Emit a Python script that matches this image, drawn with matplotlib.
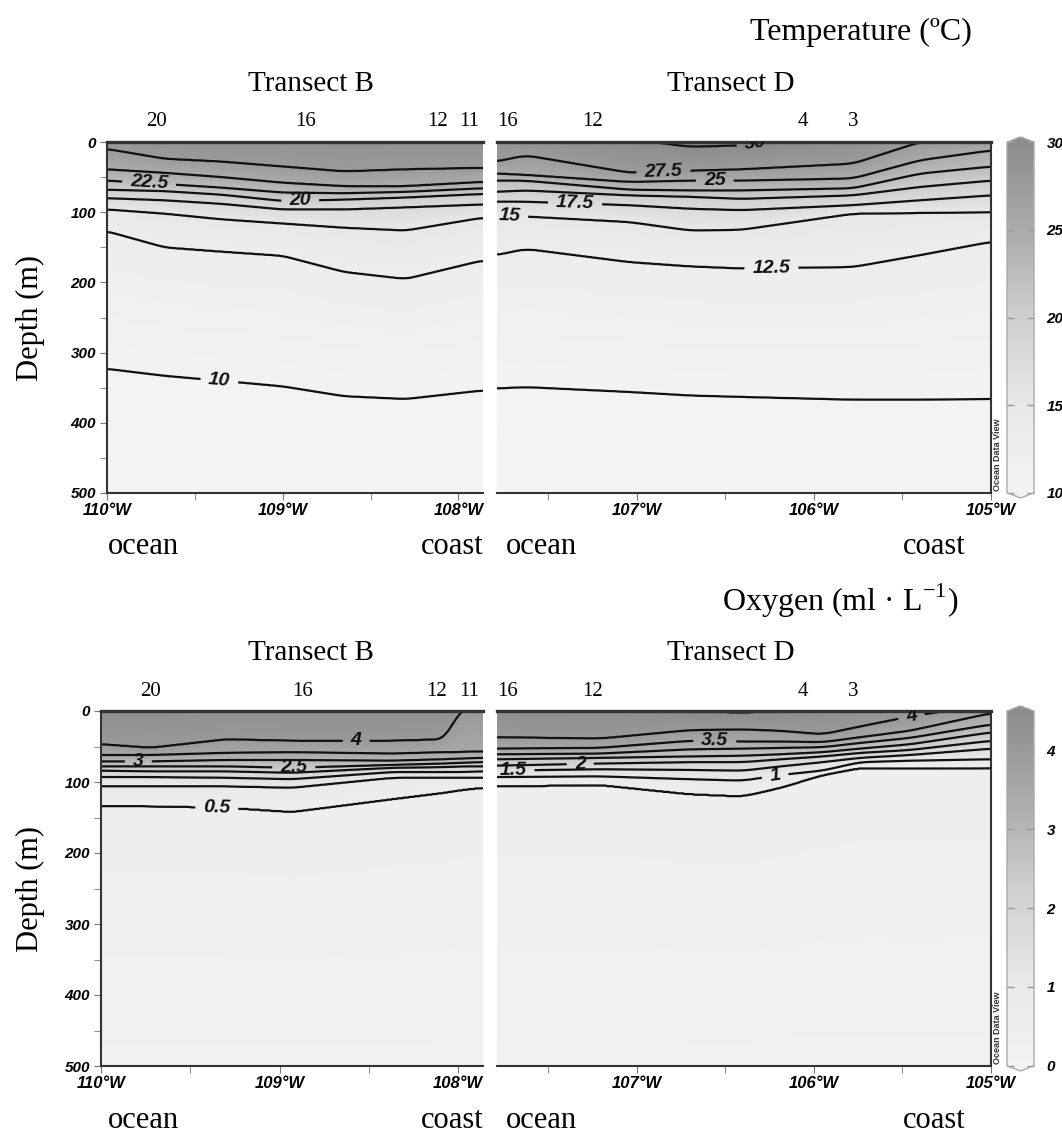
import numpy as np
import matplotlib
matplotlib.use("Agg")
import matplotlib.pyplot as plt
from matplotlib.colors import LinearSegmentedColormap, Normalize
from matplotlib.cm import ScalarMappable
from matplotlib.transforms import blended_transform_factory

# ---- data read from the sections (depth in m of each isoline at each longitude, degrees W) ----
temp_levels = [30, 27.5, 25, 22.5, 20, 17.5, 15, 12.5, 10]

temp_b_lon = [110.0, 109.67, 109.35, 109.0, 108.65, 108.3, 107.87]
temp_b_depth = [
    [-30, -30, -30, -30, -30, -30, -30],
    [10, 24, 28, 35, 42, 39, 37],
    [39, 44, 50, 58, 63, 63, 57],
    [55, 60, 65, 72, 73, 71, 66],
    [68, 70, 75, 84, 82, 79, 74],
    [80, 83, 88, 96, 96, 93, 89],
    [96, 102, 110, 116, 122, 126, 108],
    [127, 150, 156, 162, 185, 195, 169],
    [323, 333, 340, 348, 362, 366, 354],
]

temp_d_lon = [107.79, 107.63, 107.04, 106.70, 106.41, 105.78, 105.40, 105.0]
temp_d_depth = [
    [-25, -25, -4, 7, 5, -15, -30, -40],
    [28, 19, 44, 41, 39, 31, 0, -6],
    [45, 47, 57, 55, 55, 52, 26, 12],
    [55, 55, 68, 69, 69, 66, 45, 35],
    [71, 69, 76, 78, 81, 76, 64, 55],
    [85, 85, 90, 95, 97, 90, 83, 76],
    [104, 106, 114, 126, 125, 102, 101, 100],
    [161, 152, 171, 177, 180, 178, 161, 142],
    [351, 349, 356, 361, 363, 367, 367, 366],
]

oxy_levels = [4.5, 4, 3.5, 3, 2.5, 2, 1.5, 1, 0.5]

oxy_b_lon = [110.0, 109.72, 109.3, 108.93, 108.37, 108.08, 107.98, 107.87]
oxy_b_depth = [
    [-30, -30, -30, -30, -30, -30, -30, -30],
    [47, 52, 40, 42, 42, 40, -3, -8],
    [62, 62, 59, 58, 60, 58, 58, 57],
    [71, 71, 69, 69, 70, 68, 67, 66],
    [78, 78, 78, 80, 76, 74, 73, 72],
    [84, 85, 85, 87, 80, 79, 78, 78],
    [93, 93, 94, 96, 86, 86, 86, 85],
    [106, 106, 106, 108, 94, 94, 94, 94],
    [134, 134, 136, 142, 124, 115, 111, 108],
]

oxy_d_lon = [107.79, 107.21, 106.70, 106.40, 106.19, 105.95, 105.74, 105.46, 105.0]
oxy_d_depth = [
    [-15, -10, -1, 3, -2, -15, -25, -35, -45],
    [37, 39, 27, 26, 28, 33, 22, 8, -10],
    [53, 52, 42, 43, 43, 44, 37, 28, 3],
    [61, 60, 54, 53, 52, 51, 45, 38, 19],
    [68, 66, 64, 63, 61, 58, 53, 47, 30],
    [77, 74, 72, 72, 68, 64, 59, 55, 42],
    [84, 82, 83, 84, 78, 72, 66, 62, 53],
    [93, 92, 96, 98, 90, 84, 72, 70, 68],
    [106, 104, 117, 120, 108, 90, 80, 81, 80],
]

# stations shown above each section
stn_b_lon = [109.72, 108.87, 108.12, 107.94]
stn_b_lab = ["20", "16", "12", "11"]
stn_d_lon = [107.73, 107.25, 106.06, 105.78]
stn_d_lab = ["16", "12", "4", "3"]

# where the contour labels sit (lon W, depth)
temp_b_lab = [(109.76, 57), (108.9, 87), (109.36, 337)]
temp_d_lab = [(106.33, 3), (106.85, 43), (106.56, 55), (107.35, 93), (107.72, 102), (106.24, 180)]
oxy_b_lab = [(108.57, 41), (109.79, 72), (108.92, 80), (109.35, 137)]
oxy_d_lab = [(105.45, 7), (106.56, 42), (107.32, 75), (107.70, 85), (106.22, 90)]

# ---- style ----
plt.rcParams.update({
    "font.family": "Liberation Sans",
    "font.weight": "bold",
    "font.style": "italic",
    "mathtext.fontset": "custom",
    "mathtext.rm": "Liberation Serif:style=normal:weight=normal",
})
SERIF = dict(family="Liberation Serif", weight="normal", style="normal")

W, H = 1062, 1138
fig = plt.figure(figsize=(W / 100, H / 100), dpi=100)


def box(x0, y0, x1, y1):
    return [x0 / W, 1 - y1 / H, (x1 - x0) / W, (y1 - y0) / H]


def ftext(x, y, s, **kw):
    fig.text(x / W, 1 - y / H, s, **kw)


cm_gray = LinearSegmentedColormap.from_list(
    "odv_gray", ["#f3f3f3", "#e8e8e8", "#cfcfcf", "#ababab", "#8c8c8c"]
).with_extremes(over="#8c8c8c", under="#f3f3f3")

zg = np.linspace(0, 500, 501)


def make_field(st_lon, levels, depths, top, bottom, xg, win=31):
    sx = -np.asarray(st_lon, dtype=float)
    D = np.array([np.interp(xg, sx, row) for row in depths])
    k = np.hanning(win)
    k /= k.sum()
    p = win // 2
    D = np.array([np.convolve(np.pad(r, p, mode="edge"), k, mode="valid") for r in D])
    vals = np.concatenate([[top[1]], levels, [bottom[1]]])
    F = np.empty((len(zg), len(xg)))
    for j in range(len(xg)):
        zs = np.concatenate([[top[0]], D[:, j], [bottom[0]]])
        F[:, j] = np.interp(zg, zs, vals)
    return F


def section(rect, lon0, lon1, st_lon, levels, depths, top, bottom, norm,
            xticks, labpos, first):
    ax = fig.add_axes(rect)
    xg = np.linspace(-lon0, -lon1, 400)
    F = make_field(st_lon, levels, depths, top, bottom, xg)
    ax.imshow(F, extent=[xg[0], xg[-1], 500, 0], aspect="auto", cmap=cm_gray,
              norm=norm, interpolation="bilinear")
    X, Z = np.meshgrid(xg, zg)
    cs = ax.contour(X, Z, F, levels=sorted(levels), colors="#111111", linewidths=1.6)
    man = [(-lo, d) for lo, d in labpos]
    txts = ax.clabel(cs, manual=man, inline=True, inline_spacing=8,
                     fmt=lambda v: f"{v:g}", fontsize=14, colors="#111111")
    for t in txts:
        t.set_clip_on(True)
        t.set_clip_box(ax.bbox)
    ax.set_xticks([-t for t in xticks])
    ax.set_xticklabels([f"{t:g}°W" for t in xticks])
    halves = [-(np.floor(v) + 0.5) for v in np.arange(lon0, lon1 - 1, -1.0)]
    halves = [h for h in halves if -lon0 < h < -lon1]
    ax.set_xticks(halves, minor=True)
    ax.set_xlim(xg[0], xg[-1])
    ax.set_ylim(500, 0)
    ax.tick_params(axis="x", which="both", direction="out", length=5, color="#777",
                   labelsize=12, pad=2)
    for sp in ax.spines.values():
        sp.set_color("#333")
        sp.set_linewidth(1.5)
    ax.spines["top"].set_linewidth(2.4)
    if first:
        ax.set_yticks(range(0, 501, 100))
        ax.set_yticks(range(50, 500, 100), minor=True)
        ax.set_ylim(500, 0)
        ax.tick_params(axis="y", which="both", direction="out", length=5, color="#777",
                       labelsize=11, pad=3)
        ax.spines["right"].set_visible(False)
    else:
        ax.tick_params(axis="y", which="both", left=False, labelleft=False)
        ax.spines["left"].set_visible(False)
    return ax


def colorbar(rect, norm, ticks):
    cax = fig.add_axes(rect)
    cb = fig.colorbar(ScalarMappable(norm=norm, cmap=cm_gray), cax=cax, extend="both",
                      extendfrac=0.015, ticks=ticks)
    cb.outline.set_edgecolor("#aaaaaa")
    cb.outline.set_linewidth(1.0)
    cax.yaxis.set_ticks_position("both")
    cax.tick_params(direction="in", length=5, width=1, color="#999", labelsize=11,
                    labelleft=False, labelright=True, pad=9)
    return cb


def row(y_top, y_bot, title, title_x, dat_b, dat_d, labs_b, labs_d, norm, cticks, bx0):
    ax_b = section(box(bx0, y_top, 483, y_bot), 110.0, 107.86, *dat_b,
                   norm, [110, 109, 108], labs_b, True)
    ax_d = section(box(497, y_top, 991, y_bot), 107.79, 105.0, *dat_d,
                   norm, [107, 106, 105], labs_d, False)
    colorbar(box(1007, y_top - 5, 1034, y_bot + 5), norm, cticks)
    ftext(title_x, y_top - 110, title, ha="center", va="center", fontsize=23, **SERIF)
    ftext(311, y_top - 58, "Transect B", ha="center", va="center", fontsize=21, **SERIF)
    ftext(731, y_top - 58, "Transect D", ha="center", va="center", fontsize=21, **SERIF)
    for ax, lons, labsx in ((ax_b, stn_b_lon, stn_b_lab), (ax_d, stn_d_lon, stn_d_lab)):
        tr = blended_transform_factory(ax.transData, fig.transFigure)
        for lo, s in zip(lons, labsx):
            ax.text(-lo, 1 - (y_top - 20) / H, s, transform=tr, ha="center", va="center",
                    fontsize=15, **SERIF)
    for x, s in ((143, "ocean"), (452, "coast"), (541, "ocean"), (934, "coast")):
        ftext(x, y_bot + 54, s, ha="center", va="center", fontsize=22, **SERIF)
    ftext(30, (y_top + y_bot) / 2, "Depth (m)", ha="center", va="center", rotation=90,
          fontsize=22, **SERIF)
    ftext(998, y_bot - 2, "Ocean Data View", ha="center", va="bottom", rotation=90,
          fontsize=6.5, color="#333", style="normal")


row(142, 493, "Temperature (ºC)", 861,
    (temp_b_lon, temp_levels, temp_b_depth, (-80, 32.5), (600, 8.5)),
    (temp_d_lon, temp_levels, temp_d_depth, (-80, 32.5), (600, 8.5)),
    temp_b_lab, temp_d_lab, Normalize(10, 30), [10, 15, 20, 25, 30], 107)

row(711, 1066, r"Oxygen (ml · L$^{\mathrm{-1}}$)", 840,
    (oxy_b_lon, oxy_levels, oxy_b_depth, (-80, 5.0), (600, 0.1)),
    (oxy_d_lon, oxy_levels, oxy_d_depth, (-80, 5.0), (600, 0.1)),
    oxy_b_lab, oxy_d_lab, Normalize(0, 4.5), [0, 1, 2, 3, 4], 101)

fig.savefig("out.png", dpi=100)
